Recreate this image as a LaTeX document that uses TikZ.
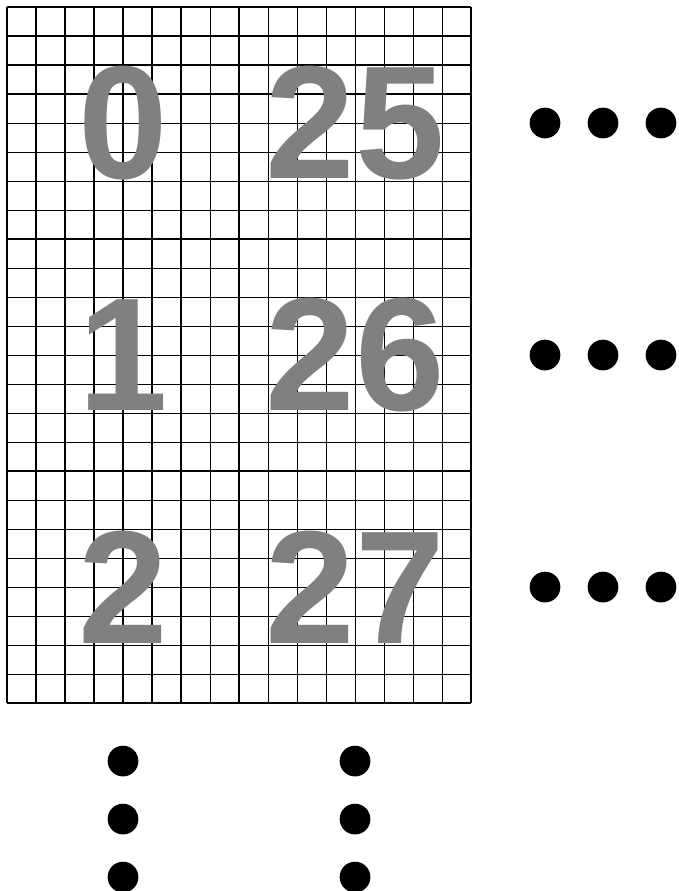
\documentclass[tikz,border=0pt]{standalone}
\usepackage{fontspec}
\setmainfont{Liberation Sans}
\usetikzlibrary{positioning}
\definecolor{numgray}{RGB}{128,128,128}

\begin{document}
\begin{tikzpicture}[
    x=0.5cm, y=0.5cm,
    fineline/.style={draw=black, line width=0.5pt},
    blockline/.style={draw=black, line width=1.1pt},
    blocknum/.style={text=numgray, inner sep=0pt,
                     font=\fontsize{79}{79}\selectfont\bfseries},
    dot/.style={circle, fill=black, inner sep=0pt, minimum size=0.53cm}]
\useasboundingbox (-0.241,-30.48) rectangle (23.14,0.241);

% fine grid, 8x8 cells per block
\foreach \i in {0,...,16} \draw[fineline] (\i,0) -- (\i,-24);
\foreach \j in {0,...,24} \draw[fineline] (0,-\j) -- (16,-\j);

% block borders
\foreach \i in {0,8,16} \draw[blockline] (\i,0) -- (\i,-24);
\foreach \j in {0,8,16,24} \draw[blockline] (0,-\j) -- (16,-\j);

% block numbers
\foreach \col/\base in {0/0, 1/25}
  \foreach \row in {0,1,2} {
    \pgfmathtruncatemacro\num{\base+\row}
    \node[blocknum] (num\num) at (8*\col+4, -8*\row-4) {\num};
  }

% continuation dots
\foreach \row in {0,1,2}
  \foreach \k in {0,1,2}
    \node[dot] (hdot\row\k) at (18.55+2*\k, -8*\row-4) {};
\foreach \col in {0,1}
  \foreach \k in {0,1,2}
    \node[dot] (vdot\col\k) at (8*\col+4, -26-2*\k) {};
\end{tikzpicture}
\end{document}
